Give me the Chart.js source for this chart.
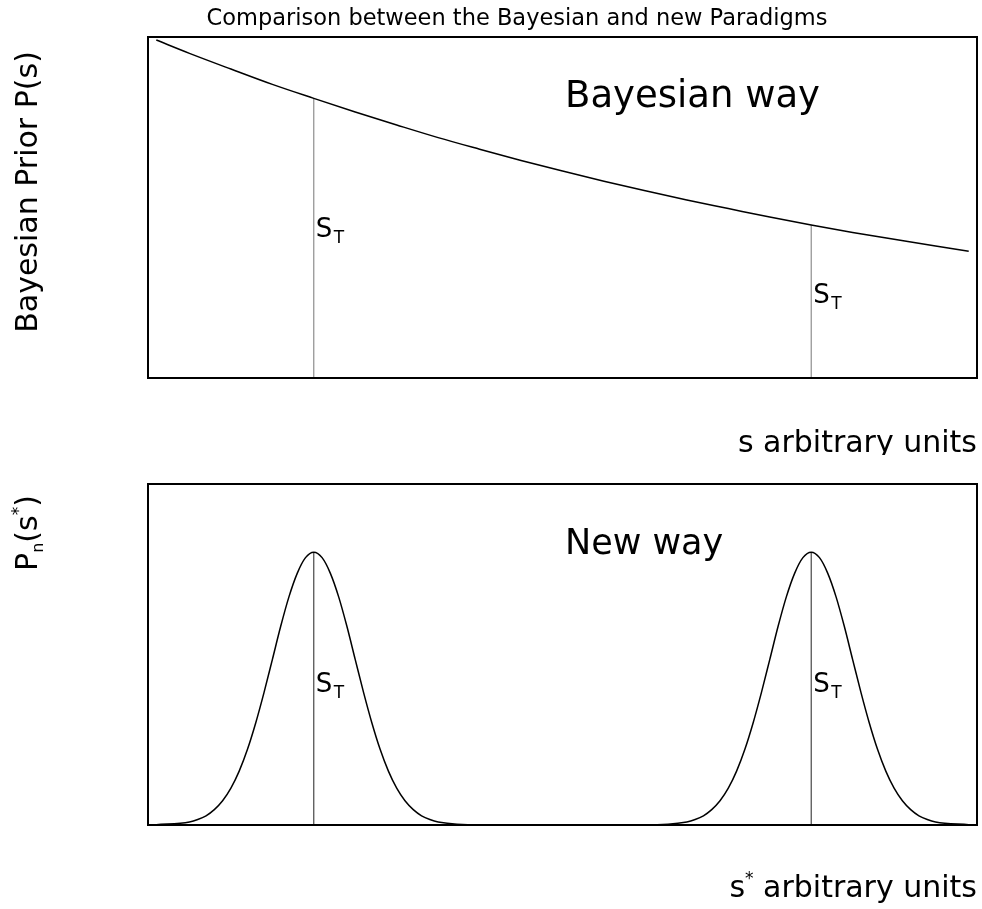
<!DOCTYPE html>
<html>
<head>
<meta charset="utf-8">
<script src="https://cdn.jsdelivr.net/npm/chart.js@4.4.1/dist/chart.umd.min.js"></script>
<style>
  body { margin: 0; background: #fff; }
  #wrap { position: relative; width: 982px; height: 909px; }
  .box { position: absolute; left: 0; width: 982px; }
</style>
</head>
<body>
<div id="wrap">
  <div class="box" style="top:0;height:455px"><canvas id="priorChart"></canvas></div>
  <div class="box" style="top:455px;height:454px"><canvas id="newChart"></canvas></div>
</div>
<script>
// values (s in arbitrary units, 0..100)
var priorS = [1, 5, 10, 15, 20, 25, 30, 35, 40, 45, 50, 55, 60, 65, 70, 75, 80, 85, 90, 95, 99];
var priorP = [0.991, 0.952, 0.906, 0.861, 0.820, 0.780, 0.742, 0.705, 0.671, 0.638, 0.607,
              0.577, 0.549, 0.522, 0.497, 0.472, 0.449, 0.427, 0.407, 0.387, 0.372];

var newS = [1, 5, 6, 7, 8, 9, 10, 11, 12, 13, 14, 15, 16, 17, 18, 19, 20, 21, 22, 23, 24, 25, 26, 27, 28,
            29, 30, 31, 32, 33, 34, 35, 40, 50, 60, 65, 66, 67, 68, 69, 70, 71, 72, 73, 74, 75, 76, 77, 78,
            79, 80, 81, 82, 83, 84, 85, 86, 87, 88, 89, 90, 91, 92, 93, 94, 95, 99];
var newP = [0.001, 0.009, 0.016, 0.027, 0.045, 0.071, 0.108, 0.158, 0.222, 0.300, 0.389, 0.485, 0.582, 0.669,
            0.738, 0.784, 0.800, 0.784, 0.738, 0.669, 0.582, 0.485, 0.389, 0.300, 0.222, 0.158, 0.108, 0.071,
            0.045, 0.027, 0.016, 0.009, 0.000, 0.000, 0.000, 0.009, 0.016, 0.027, 0.045, 0.071, 0.108, 0.158,
            0.222, 0.300, 0.389, 0.485, 0.582, 0.669, 0.738, 0.784, 0.800, 0.784, 0.738, 0.669, 0.582, 0.485,
            0.389, 0.300, 0.222, 0.158, 0.108, 0.071, 0.045, 0.027, 0.016, 0.009, 0.001];

var markS = [20, 80];          // true value s_T
var priorAtMark = [0.820, 0.449];
var newAtMark = [0.800, 0.800];

var FONT = '"DejaVu Sans", sans-serif';

function pts(xs, ys) {
  var out = [];
  for (var i = 0; i < xs.length; i++) out.push({ x: xs[i], y: ys[i] });
  return out;
}

function markLine(s, top, color) {
  return {
    data: [{ x: s, y: 0 }, { x: s, y: top }],
    borderColor: color,
    borderWidth: 1,
    pointRadius: 0,
    tension: 0
  };
}

// frame + all texts
var decorPlugin = {
  id: 'decor',
  afterDraw: function(chart) {
    var ctx = chart.ctx;
    var a = chart.chartArea;
    var o = chart.options.plugins.decor;
    var xs = chart.scales.x, ys = chart.scales.y;
    ctx.save();
    ctx.strokeStyle = '#000';
    ctx.lineWidth = 2;
    ctx.strokeRect(a.left, a.top, a.right - a.left, a.bottom - a.top);
    ctx.fillStyle = '#000';

    if (o.title) {
      ctx.font = '22.5px ' + FONT;
      ctx.textAlign = 'center';
      ctx.fillText(o.title, 517, 25);
    }

    // big label inside the panel
    ctx.font = o.bigSize + 'px ' + FONT;
    ctx.textAlign = 'left';
    ctx.fillText(o.big, 565, o.bigY);

    // S_T marks
    for (var i = 0; i < o.marks.length; i++) {
      var px = xs.getPixelForValue(o.marks[i][0]) + 2;
      var py = ys.getPixelForValue(o.marks[i][1]);
      ctx.font = '26px ' + FONT;
      ctx.fillText('S', px, py);
      ctx.font = '17px ' + FONT;
      ctx.fillText('T', px + 18, py + 6);
    }

    // x title, right aligned under the panel
    ctx.font = '30px ' + FONT;
    ctx.textAlign = 'right';
    if (o.star) {
      var rest = ' arbitrary units';
      var w = ctx.measureText(rest).width;
      ctx.fillText(rest, a.right, o.xTitleY);
      ctx.font = '17px ' + FONT;
      ctx.fillText('*', a.right - w, o.xTitleY - 13);
      var ws = ctx.measureText('*').width;
      ctx.font = '30px ' + FONT;
      ctx.fillText('s', a.right - w - ws, o.xTitleY);
    } else {
      ctx.fillText('s arbitrary units', a.right, o.xTitleY);
    }

    // y title, rotated
    ctx.translate(37, o.yCenter);
    ctx.rotate(-Math.PI / 2);
    ctx.textAlign = 'left';
    var parts = o.yParts;
    var total = 0;
    for (var j = 0; j < parts.length; j++) {
      ctx.font = parts[j].size + 'px ' + FONT;
      total += ctx.measureText(parts[j].t).width;
    }
    var cx = -total / 2;
    for (var k = 0; k < parts.length; k++) {
      ctx.font = parts[k].size + 'px ' + FONT;
      ctx.fillText(parts[k].t, cx, parts[k].dy || 0);
      cx += ctx.measureText(parts[k].t).width;
    }
    ctx.restore();
  }
};

var baseScales = {
  x: { type: 'linear', min: 0, max: 100, display: false },
  y: { type: 'linear', min: 0, max: 1, display: false }
};

new Chart(document.getElementById('priorChart'), {
  type: 'line',
  data: {
    datasets: [
      { data: pts(priorS, priorP), borderColor: '#000', borderWidth: 1.5, pointRadius: 0,
        cubicInterpolationMode: 'monotone' },
      markLine(markS[0], priorAtMark[0], '#777'),
      markLine(markS[1], priorAtMark[1], '#777')
    ]
  },
  options: {
    responsive: true,
    maintainAspectRatio: false,
    animation: false,
    layout: { padding: { left: 148, right: 5, top: 37, bottom: 77 } },
    scales: baseScales,
    plugins: {
      legend: { display: false },
      tooltip: { enabled: false },
      decor: {
        title: 'Comparison between the Bayesian and new Paradigms',
        big: 'Bayesian way', bigSize: 37, bigY: 107,
        marks: [[markS[0], 0.413], [markS[1], 0.22]],
        xTitleY: 452,
        yCenter: 192,
        yParts: [{ t: 'Bayesian Prior P(s)', size: 30 }]
      }
    }
  },
  plugins: [decorPlugin]
});

new Chart(document.getElementById('newChart'), {
  type: 'line',
  data: {
    datasets: [
      { data: pts(newS, newP), borderColor: '#000', borderWidth: 1.5, pointRadius: 0,
        cubicInterpolationMode: 'monotone' },
      markLine(markS[0], newAtMark[0], '#222'),
      markLine(markS[1], newAtMark[1], '#222')
    ]
  },
  options: {
    responsive: true,
    maintainAspectRatio: false,
    animation: false,
    layout: { padding: { left: 148, right: 5, top: 29, bottom: 84 } },
    scales: baseScales,
    plugins: {
      legend: { display: false },
      tooltip: { enabled: false },
      decor: {
        big: 'New way', bigSize: 35, bigY: 99,
        marks: [[markS[0], 0.39], [markS[1], 0.39]],
        star: true,
        xTitleY: 442,
        yCenter: 78,
        yParts: [
          { t: 'P', size: 30 },
          { t: 'n', size: 16, dy: 6 },
          { t: '(s', size: 30 },
          { t: '*', size: 17, dy: -13 },
          { t: ')', size: 30 }
        ]
      }
    }
  },
  plugins: [decorPlugin]
});
</script>
</body>
</html>
